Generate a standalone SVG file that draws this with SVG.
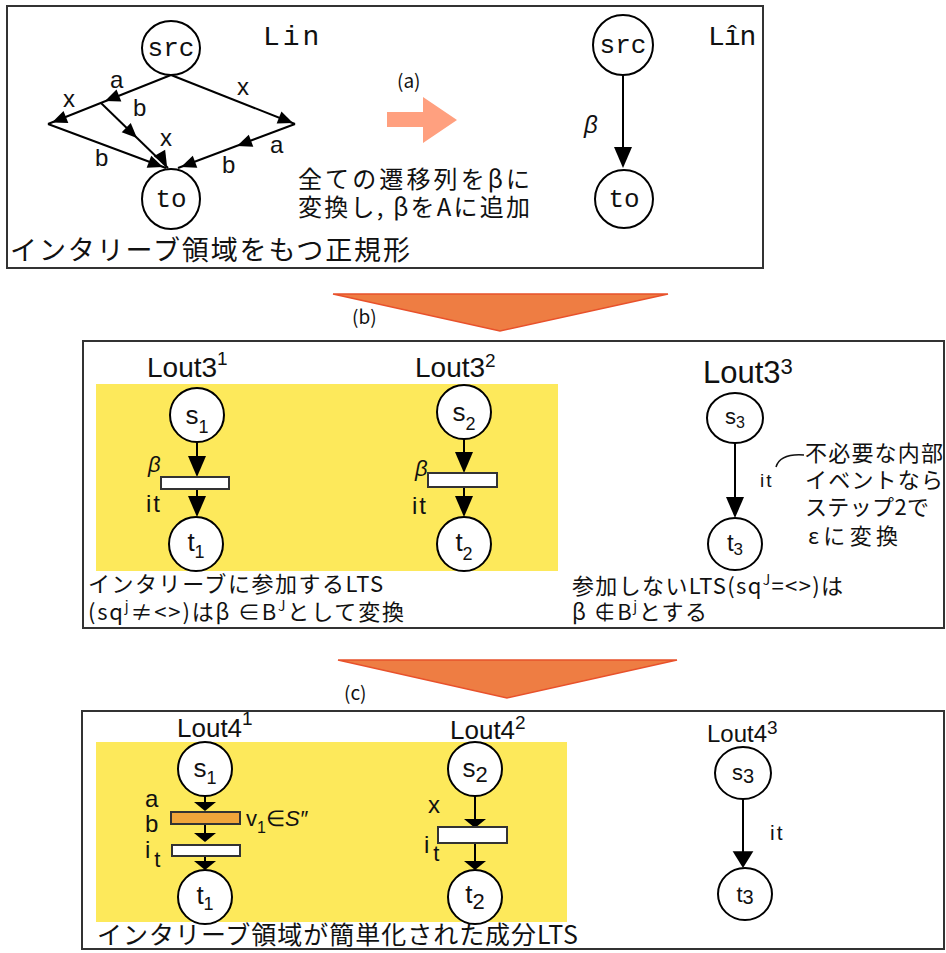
<svg xmlns="http://www.w3.org/2000/svg" xmlns:xlink="http://www.w3.org/1999/xlink" width="946" height="953" viewBox="0 0 946 953">
<style>
.box{fill:#fff;stroke:#333;stroke-width:2}
.yel{fill:#fde95b;stroke:none}
.nd{fill:#fff;stroke:#000;stroke-width:2}
.ln{stroke:#000;stroke-width:2;fill:none}
.ah{fill:#000}
.jp{font-family:"Noto Sans CJK JP","Noto Sans",sans-serif;fill:#111}
.lt{font-family:"Liberation Sans","Noto Sans",sans-serif;fill:#111}
.mo{font-family:"Liberation Mono","DejaVu Sans Mono",monospace;fill:#111}
.rect{fill:#fff;stroke:#333;stroke-width:2}
.big{fill:#ee7d43;stroke:#e8512b;stroke-width:1.5}
</style>
<defs>
<path id="ahS" d="M0,0 L-15,-6.5 L-15,6.5 Z"/>
<path id="ahD" d="M0,0 L-9,-21 L9,-21 Z"/>
<path id="ahF" d="M0,0 L-11,-9 L11,-9 Z"/>
</defs>
<rect width="946" height="953" fill="#fff"/>

<!-- panels -->
<g id="panel-top"><rect class="box" x="7" y="6" width="756" height="262"/></g>
<g id="panel-mid"><rect class="box" x="83" y="341" width="861" height="287"/><rect class="yel" x="96" y="384" width="462" height="187"/></g>
<g id="panel-bot"><rect class="box" x="82" y="711" width="862" height="238"/><rect class="yel" x="96" y="742" width="471" height="180"/></g>

<!-- big arrows -->
<g id="arrow-a"><polygon points="387,112 423,112 423,97 457,120 423,143 423,127 387,127" fill="#ffa07f"/><text class="jp" x="397" y="88" font-size="19">(a)</text></g>
<g id="arrow-b"><polygon class="big" points="333,294 668,294 500,331"/><text class="jp" x="352" y="324" font-size="19">(b)</text></g>
<g id="arrow-c"><polygon class="big" points="338,660 677,660 507,698"/><text class="jp" x="344" y="700" font-size="19">(c)</text></g>

<!-- connectors -->
<g id="connectors">
<path class="ln" d="M171,75 L48,124"/>
<path class="ln" d="M101,103 L168,168"/>
<path class="ln" d="M48,124 L166,168"/>
<path class="ln" d="M171,75 L295,124"/>
<path class="ln" d="M295,124 L178,168"/>
<use class="ah" xlink:href="#ahS" transform="translate(105,101) rotate(158.3)"/>
<use class="ah" xlink:href="#ahS" transform="translate(52,122.5) rotate(158.3)"/>
<use class="ah" xlink:href="#ahS" transform="translate(163,167) rotate(20.6)"/>
<use class="ah" xlink:href="#ahS" transform="translate(137,138) rotate(44.1)"/>
<use class="ah" xlink:href="#ahS" transform="translate(167,166) rotate(60)"/>
<use class="ah" xlink:href="#ahS" transform="translate(293,123) rotate(21.6)"/>
<use class="ah" xlink:href="#ahS" transform="translate(237,146) rotate(159.4)"/>
<use class="ah" xlink:href="#ahS" transform="translate(181,167) rotate(159.4)"/>
<path class="ln" d="M623,75 L623,150"/>
<use class="ah" xlink:href="#ahD" transform="translate(623,168)"/>
<!-- middle -->
<path class="ln" d="M197,442 L197,460"/>
<use class="ah" xlink:href="#ahD" transform="translate(197,477)"/>
<path class="ln" d="M197,489 L197,500"/>
<use class="ah" xlink:href="#ahD" transform="translate(197,517)"/>
<path class="ln" d="M464,439 L464,456"/>
<use class="ah" xlink:href="#ahD" transform="translate(464,473)"/>
<path class="ln" d="M464,487 L464,500"/>
<use class="ah" xlink:href="#ahD" transform="translate(464,517)"/>
<path class="ln" d="M735,442 L735,502"/>
<use class="ah" xlink:href="#ahD" transform="translate(735,518)"/>
<path d="M776,467 C779,457 790,454 804,455" fill="none" stroke="#111" stroke-width="1.5"/>
<!-- bottom -->
<path class="ln" d="M205,796 L205,804"/>
<use class="ah" xlink:href="#ahF" transform="translate(205,811)"/>
<path class="ln" d="M205,824 L205,834"/>
<use class="ah" xlink:href="#ahF" transform="translate(205,842)"/>
<path class="ln" d="M205,856 L205,862"/>
<use class="ah" xlink:href="#ahF" transform="translate(205,870)"/>
<path class="ln" d="M475,796 L475,822"/>
<use class="ah" xlink:href="#ahF" transform="translate(475,828)"/>
<path class="ln" d="M475,843 L475,864"/>
<use class="ah" xlink:href="#ahF" transform="translate(475,870)"/>
<path class="ln" d="M743,798 L743,854"/>
<use class="ah" xlink:href="#ahD" transform="translate(743,868) scale(1.15,0.8)"/>
</g>

<!-- top panel labels -->
<g id="top-labels" class="lt" font-size="24">
<text x="63" y="107">x</text>
<text x="110" y="88">a</text>
<text x="133" y="116">b</text>
<text x="160" y="146">x</text>
<text x="95" y="166">b</text>
<text x="237" y="95">x</text>
<text x="270" y="153">a</text>
<text x="222" y="173">b</text>
</g>
<text class="mo" x="263" y="45" font-size="28" letter-spacing="3">Lin</text>
<text class="mo" x="708" y="45" font-size="28" letter-spacing="-1">Lîn</text>
<text class="lt" x="584" y="133" font-size="24" font-style="italic">β</text>
<text class="jp" x="298" y="188" font-size="24" textLength="232" lengthAdjust="spacing">全ての遷移列をβに</text>
<text class="jp" x="298" y="216" font-size="24" textLength="232" lengthAdjust="spacing">変換し, βをAに追加</text>
<text class="jp" x="10" y="260" font-size="27" textLength="400" lengthAdjust="spacing">インタリーブ領域をもつ正規形</text>

<!-- top nodes -->
<g id="n-src"><ellipse class="nd" cx="171" cy="48" rx="29" ry="27"/><text class="mo" x="171" y="56" font-size="26" text-anchor="middle">src</text></g>
<g id="n-to"><ellipse class="nd" cx="171" cy="199" rx="29" ry="30"/><text class="mo" x="171" y="207" font-size="26" text-anchor="middle">to</text></g>
<g id="n-src2"><circle class="nd" cx="623" cy="45" r="30"/><text class="mo" x="623" y="53" font-size="26" text-anchor="middle">src</text></g>
<g id="n-to2"><circle class="nd" cx="624" cy="199" r="29"/><text class="mo" x="624" y="207" font-size="26" text-anchor="middle">to</text></g>

<!-- middle panel -->
<text class="lt" x="147" y="377" font-size="28">Lout3<tspan font-size="19" dy="-12">1</tspan></text>
<text class="lt" x="415" y="377" font-size="28">Lout3<tspan font-size="19" dy="-10">2</tspan></text>
<text class="lt" x="703" y="383" font-size="31">Lout3<tspan font-size="22" dy="-9">3</tspan></text>
<g id="m-s1"><circle class="nd" cx="197" cy="415" r="27"/><text class="lt" x="197" y="424" font-size="26" text-anchor="middle">s<tspan font-size="18" dy="9">1</tspan></text></g>
<g id="m-v1"><rect class="rect" x="161" y="477" width="68" height="12"/></g>
<g id="m-t1"><circle class="nd" cx="196" cy="544" r="27"/><text class="lt" x="196" y="551" font-size="26" text-anchor="middle">t<tspan font-size="18" dy="7">1</tspan></text></g>
<g id="m-s2"><circle class="nd" cx="464" cy="412" r="27"/><text class="lt" x="464" y="421" font-size="26" text-anchor="middle">s<tspan font-size="18" dy="9">2</tspan></text></g>
<g id="m-v2"><rect class="rect" x="428" y="473" width="69" height="14"/></g>
<g id="m-t2"><circle class="nd" cx="464" cy="544" r="27"/><text class="lt" x="464" y="551" font-size="26" text-anchor="middle">t<tspan font-size="18" dy="9">2</tspan></text></g>
<g id="m-s3"><ellipse class="nd" cx="735" cy="418" rx="28" ry="25"/><text class="lt" x="735" y="424" font-size="22" text-anchor="middle">s<tspan font-size="16" dy="4">3</tspan></text></g>
<g id="m-t3"><ellipse class="nd" cx="735" cy="544" rx="27" ry="26"/><text class="lt" x="735" y="551" font-size="24" text-anchor="middle">t<tspan font-size="17" dy="4">3</tspan></text></g>
<text class="lt" x="148" y="472" font-size="22" font-style="italic">β</text>
<text class="lt" x="146" y="512" font-size="24" letter-spacing="2">it</text>
<text class="lt" x="415" y="476" font-size="22" font-style="italic">β</text>
<text class="lt" x="412" y="514" font-size="24" letter-spacing="2">it</text>
<text class="lt" x="760" y="487" font-size="19" letter-spacing="2">it</text>
<g class="jp" font-size="22">
<text x="805" y="461" textLength="138" lengthAdjust="spacing">不必要な内部</text>
<text x="805" y="488" textLength="138" lengthAdjust="spacing">イベントなら</text>
<text x="805" y="515" textLength="124" lengthAdjust="spacing">ステップ2で</text>
<text x="808" y="544" textLength="90" lengthAdjust="spacing">εに変換</text>
</g>
<text class="jp" x="88" y="592" font-size="22" textLength="295" lengthAdjust="spacing">インタリーブに参加するLTS</text>
<text class="jp" x="88" y="620" font-size="22" textLength="316" lengthAdjust="spacing">(sq<tspan font-size="14" dy="-9">j</tspan><tspan dy="9">≠&lt;&gt;)はβ ∈B</tspan><tspan font-size="14" dy="-9">J</tspan><tspan dy="9">として変換</tspan></text>
<text class="jp" x="572" y="594" font-size="22" textLength="271" lengthAdjust="spacing">参加しないLTS(sq<tspan font-size="14" dy="-9">J</tspan><tspan dy="9">=&lt;&gt;)は</tspan></text>
<text class="jp" x="572" y="620" font-size="22" textLength="135" lengthAdjust="spacing">β ∉B<tspan font-size="14" dy="-9">j</tspan><tspan dy="9">とする</tspan></text>

<!-- bottom panel -->
<text class="lt" x="177" y="737" font-size="26">Lout4<tspan font-size="19" dy="-12">1</tspan></text>
<text class="lt" x="450" y="739" font-size="26">Lout4<tspan font-size="19" dy="-10">2</tspan></text>
<text class="lt" x="707" y="742" font-size="24">Lout4<tspan font-size="19" dy="-8">3</tspan></text>
<g id="b-s1"><circle class="nd" cx="205" cy="769" r="27"/><text class="lt" x="205" y="777" font-size="26" text-anchor="middle">s<tspan font-size="18" dy="7">1</tspan></text></g>
<g id="b-v1"><rect x="171" y="812" width="69" height="12" fill="#f0a53a" stroke="#333" stroke-width="2"/></g>
<g id="b-v2"><rect class="rect" x="172" y="845" width="68" height="11"/></g>
<g id="b-t1"><circle class="nd" cx="205" cy="897" r="27"/><text class="lt" x="205" y="904" font-size="26" text-anchor="middle">t<tspan font-size="18" dy="6">1</tspan></text></g>
<g id="b-s2"><circle class="nd" cx="475" cy="769" r="27"/><text class="lt" x="475" y="777" font-size="26" text-anchor="middle">s<tspan font-size="22" dy="5">2</tspan></text></g>
<g id="b-v3"><rect class="rect" x="438" y="827" width="69" height="16"/></g>
<g id="b-t2"><circle class="nd" cx="475" cy="897" r="27"/><text class="lt" x="475" y="903" font-size="26" text-anchor="middle">t<tspan font-size="22" dy="6">2</tspan></text></g>
<g id="b-s3"><ellipse class="nd" cx="743" cy="773" rx="28" ry="26"/><text class="lt" x="743" y="780" font-size="22" text-anchor="middle">s<tspan font-size="20" dy="3">3</tspan></text></g>
<g id="b-t3"><ellipse class="nd" cx="745" cy="894" rx="27" ry="26"/><text class="lt" x="745" y="902" font-size="22" text-anchor="middle">t<tspan font-size="20" dy="2">3</tspan></text></g>
<g class="lt" font-size="24">
<text x="145" y="807">a</text>
<text x="145" y="832">b</text>
<text x="145" y="858">i<tspan font-size="22" dx="4" dy="9">t</tspan></text>
<text x="428" y="813">x</text>
<text x="424" y="853">i<tspan font-size="22" dx="4" dy="8">t</tspan></text>
</g>
<text class="lt" x="770" y="840" font-size="21" letter-spacing="2">it</text>
<text class="lt" x="246" y="826" font-size="22">v<tspan font-size="16" dy="7">1</tspan><tspan dy="-7">∈</tspan><tspan font-style="italic">S″</tspan></text>
<text class="jp" x="97" y="944" font-size="25" textLength="481" lengthAdjust="spacing">インタリーブ領域が簡単化された成分LTS</text>
</svg>
